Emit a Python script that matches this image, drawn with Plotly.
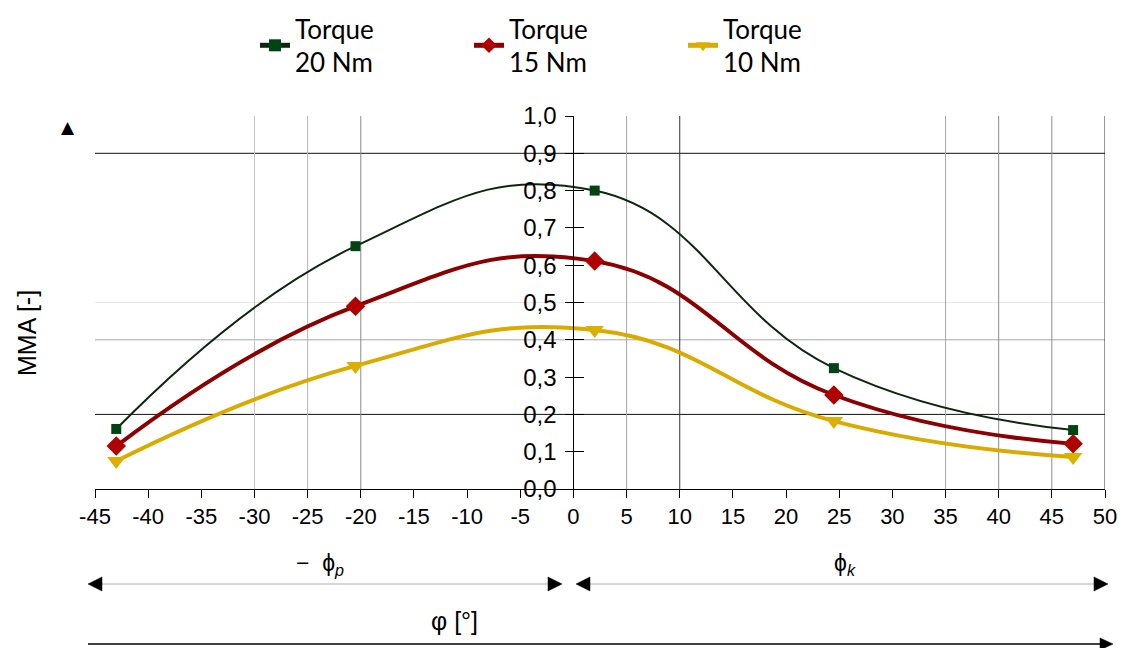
import plotly.graph_objects as go

# ---------------- data ----------------
phi = [-43, -20.5, 2, 24.5, 47]
mma_20 = [0.161, 0.651, 0.800, 0.324, 0.158]
mma_15 = [0.115, 0.490, 0.611, 0.252, 0.121]
mma_10 = [0.075, 0.330, 0.426, 0.182, 0.086]
series_names = ["Torque<br>20 Nm", "Torque<br>15 Nm", "Torque<br>10 Nm"]

x_ticks = list(range(-45, 51, 5))
x_tick_labels = [str(v) for v in x_ticks]
y_ticks = [i / 10 for i in range(11)]
y_tick_labels = [f"{v:.1f}".replace(".", ",") for v in y_ticks]

h_grid_values = [0.9, 0.5, 0.4, 0.2]
v_grid_values = [-30, -25, -20, 5, 10, 35, 40, 45, 50]

# ---------------- styles ----------------
h_grid_colors = ["#111111", "#e8e8e8", "#a8a8a8", "#111111"]
v_grid_colors = ["#c4c4c4", "#b4b4b4", "#8c8c8c", "#a8a8a8", "#333333",
                 "#a8a8a8", "#8c8c8c", "#8c8c8c", "#333333"]

X_RANGE = [-45, 50]
Y_RANGE = [0, 1.0]
L, R, T, B = 95, 18, 116, 159
W, H = 1123, 648
PW, PH = W - L - R, H - T - B


def px_x(px):
    return (px - L) / PW


def px_y(py):
    return (H - B - py) / PH


fig = go.Figure()

fig.add_trace(go.Scatter(
    x=phi, y=mma_20, name=series_names[0], mode="lines+markers",
    line=dict(color="#0d260d", width=2, shape="spline", smoothing=1.3),
    marker=dict(symbol="square", size=10, color="#004414"),
))
fig.add_trace(go.Scatter(
    x=phi, y=mma_15, name=series_names[1], mode="lines+markers",
    line=dict(color="#8b0000", width=4, shape="spline", smoothing=1.3),
    marker=dict(symbol="diamond", size=15, color="#b00000"),
))
fig.add_trace(go.Scatter(
    x=phi, y=mma_10, name=series_names[2], mode="lines+markers",
    line=dict(color="#d9aa00", width=4, shape="spline", smoothing=1.3),
    marker=dict(symbol="triangle-down", size=16, color="#dcb000"),
))

# grid lines
for v, c in zip(h_grid_values, h_grid_colors):
    fig.add_shape(type="line", xref="x", yref="y", x0=X_RANGE[0], x1=X_RANGE[1],
                  y0=v, y1=v, line=dict(color=c, width=1), layer="below")
for v, c in zip(v_grid_values, v_grid_colors):
    fig.add_shape(type="line", xref="x", yref="y", x0=v, x1=v,
                  y0=Y_RANGE[0], y1=Y_RANGE[1], line=dict(color=c, width=1), layer="below")

font_main = "Liberation Sans, Arial, sans-serif"

fig.update_layout(
    width=W, height=H,
    margin=dict(l=L, r=R, t=T, b=B, autoexpand=False),
    paper_bgcolor="white", plot_bgcolor="white",
    separators=", ",
    showlegend=True,
    legend=dict(
        orientation="h", x=px_x(255), xanchor="left", y=px_y(5), yanchor="top",
        font=dict(family="Lato, sans-serif", size=26, color="#000000"),
        entrywidth=169, entrywidthmode="pixels", itemwidth=30,
        itemsizing="constant",
        bgcolor="rgba(0,0,0,0)",
    ),
    xaxis=dict(
        range=X_RANGE, tickmode="array", tickvals=x_ticks, ticktext=x_tick_labels,
        showgrid=False, zeroline=False, showline=True, linecolor="#000000", linewidth=1,
        ticks="outside", ticklen=8, tickcolor="#000000", automargin=False,
        tickfont=dict(family=font_main, size=22, color="#000000"),
    ),
    yaxis=dict(
        range=Y_RANGE, tickmode="array", tickvals=y_ticks, ticktext=y_tick_labels,
        anchor="free", position=(0 - X_RANGE[0]) / (X_RANGE[1] - X_RANGE[0]),
        showgrid=False, zeroline=False, showline=True, linecolor="#000000", linewidth=1,
        ticks="outside", ticklen=8, tickcolor="#000000", ticklabelstandoff=4,
        automargin=False,
        tickfont=dict(family=font_main, size=24, color="#000000"),
    ),
    yaxis2=dict(
        range=Y_RANGE, tickmode="array", tickvals=y_ticks, overlaying="y",
        anchor="free", position=(0 - X_RANGE[0]) / (X_RANGE[1] - X_RANGE[0]),
        showgrid=False, zeroline=False, showline=False, showticklabels=False,
        ticks="inside", ticklen=10, tickcolor="#000000", automargin=False,
    ),
)
# invisible trace so the crossing-tick axis renders
fig.add_trace(go.Scatter(x=[None], y=[None], yaxis="y2", showlegend=False, hoverinfo="skip"))


def label(text, px, py, size, family=font_main, angle=0):
    fig.add_annotation(text=text, xref="paper", yref="paper", x=px_x(px), y=px_y(py),
                       xanchor="center", yanchor="middle", textangle=angle,
                       showarrow=False, font=dict(family=family, size=size, color="#000000"))


def hline(px0, px1, py, color, width):
    fig.add_shape(type="line", xref="paper", yref="paper", x0=px_x(px0), x1=px_x(px1),
                  y0=px_y(py), y1=px_y(py), line=dict(color=color, width=width))


def head(tip, py, direction, length=14, half=7):
    base = tip - direction * length
    pts = [(tip, py), (base, py - half), (base, py + half)]
    path = "M " + " L ".join(f"{px_x(a):.5f},{px_y(b):.5f}" for a, b in pts) + " Z"
    fig.add_shape(type="path", xref="paper", yref="paper", path=path,
                  fillcolor="#000000", line=dict(color="#000000", width=0.5))


# y-axis title and arrow
label("MMA [-]", 27, 333, 25, angle=-90)
label("▲", 68, 127, 17, family="DejaVu Sans")

# bottom double arrows (phi_p, phi_k)
hline(95, 552, 584, "#b0b0b0", 1)
hline(585, 1097, 584, "#b0b0b0", 1)
head(88, 584, -1)
head(562, 584, 1)
head(576, 584, -1)
head(1108, 584, 1)
label("−  ϕ<sub><i>p</i></sub>", 320, 564, 23)
label("ϕ<sub><i>k</i></sub>", 845, 564, 23)

# bottom long arrow (phi)
hline(88, 1102, 644, "#000000", 1.5)
head(1113, 644, 1, length=13, half=6)
label("φ [°]", 454, 621, 25)

fig.write_html("out.html", config={"displayModeBar": False},
               post_script="document.body.style.margin='0';")
